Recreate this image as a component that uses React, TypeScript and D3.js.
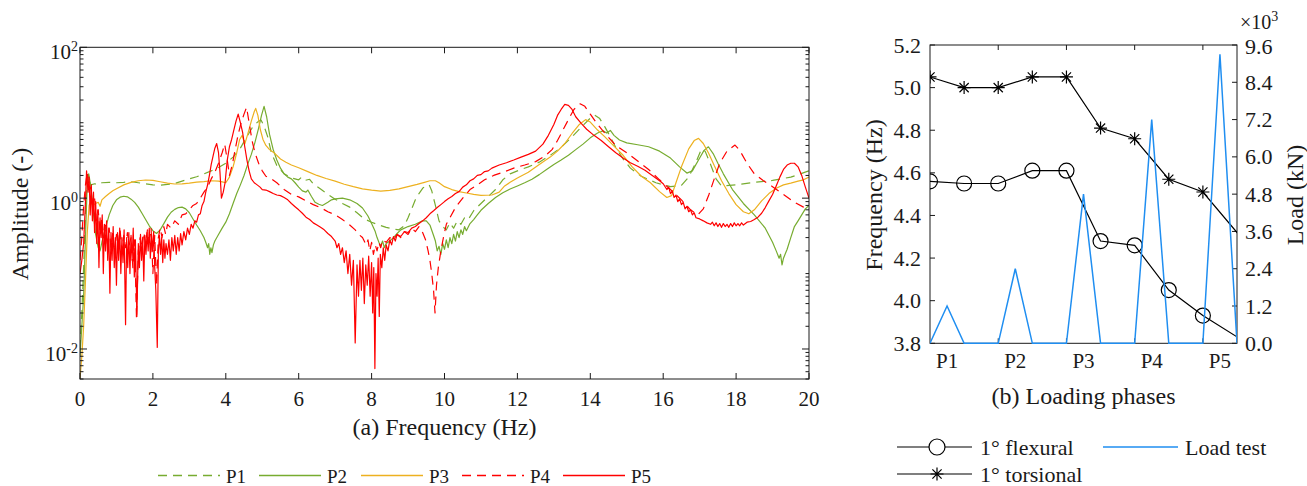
import React from 'react';
import * as d3 from 'd3';

const FONT = '"Liberation Serif", "Times New Roman", serif';
const INK = '#1a1a1a';
const GREEN = '#77AC30';
const ORANGE = '#EDB120';
const RED = '#FF0000';
const BLUE = '#1F8EF1';

// ---------- Panel (a): FRF amplitude spectra, [frequency Hz, amplitude] ----------
const P1: [number, number][] = [
  [0,0.01],[0.05,0.03],[0.1,0.12],[0.15,0.6],[0.2,2.0],[0.25,1.7],[0.3,1.5],[0.4,1.55],[0.5,1.5],[0.6,1.6],
  [0.8,1.62],[1.0,1.6],[1.2,1.62],[1.4,1.65],[1.6,1.6],[1.8,1.55],[2.0,1.5],[2.2,1.48],[2.4,1.52],[2.6,1.57],
  [2.8,1.68],[3.0,1.8],[3.2,1.92],[3.4,2.1],[3.6,2.3],[3.8,2.55],[4.0,2.9],[4.2,3.5],[4.4,4.6],[4.6,6.8],
  [4.75,9.0],[4.9,10.5],[4.97,10.8],[5.05,9.0],[5.15,6.5],[5.25,4.0],[5.4,2.7],[5.6,2.1],[5.8,1.85],[6.0,1.75],
  [6.08,1.9],[6.18,1.72],[6.3,1.78],[6.4,1.55],[6.6,1.32],[6.8,1.12],[7.0,0.97],[7.2,0.85],[7.4,0.76],[7.6,0.64],
  [7.8,0.53],[8.0,0.48],[8.2,0.44],[8.4,0.41],[8.6,0.39],[8.75,0.38],[8.9,0.43],[9.0,0.55],[9.1,0.72],[9.2,0.95],
  [9.3,1.15],[9.4,1.35],[9.5,1.48],[9.58,1.5],[9.65,1.25],[9.75,0.8],[9.85,0.5],[9.95,0.42],[10.05,0.38],[10.15,0.47],
  [10.25,0.4],[10.35,0.5],[10.45,0.45],[10.55,0.55],[10.65,0.52],[10.8,0.68],[11.0,0.85],[11.2,1.05],[11.4,1.3],[11.6,1.75],
  [11.8,2.1],[12.0,2.3],[12.3,2.6],[12.6,3.0],[12.9,3.7],[13.2,4.7],[13.5,6.5],[13.8,9.2],[14.0,11.5],[14.12,12.6],
  [14.25,11.5],[14.4,8.8],[14.55,6.5],[14.7,4.7],[14.9,3.3],[15.1,2.5],[15.4,1.95],[15.8,1.6],[16.2,1.42],[16.5,1.48],
  [16.7,1.9],[16.9,3.0],[17.05,4.5],[17.15,4.2],[17.3,2.8],[17.45,1.8],[17.6,1.45],[18.0,1.5],[18.5,1.62],[19.0,1.72],
  [19.5,1.9],[20.0,2.3],
];

const P2: [number, number][] = [
  [0,0.008],[0.05,0.02],[0.1,0.05],[0.15,0.3],[0.2,1.6],[0.24,2.1],[0.28,1.6],[0.33,1.0],[0.38,0.55],[0.43,0.33],
  [0.5,0.22],[0.55,0.2],[0.6,0.26],[0.7,0.4],[0.8,0.6],[0.9,0.8],[1.0,0.95],[1.1,1.03],[1.2,1.06],[1.3,1.04],
  [1.4,0.97],[1.5,0.88],[1.6,0.76],[1.7,0.63],[1.8,0.52],[1.9,0.43],[2.0,0.37],[2.1,0.34],[2.2,0.38],[2.3,0.46],
  [2.4,0.56],[2.5,0.65],[2.6,0.71],[2.7,0.75],[2.8,0.76],[2.9,0.72],[3.0,0.64],[3.1,0.53],[3.2,0.44],[3.3,0.37],
  [3.4,0.3],[3.45,0.26],[3.5,0.22],[3.53,0.25],[3.56,0.18],[3.59,0.22],[3.62,0.19],[3.66,0.24],[3.7,0.27],[3.8,0.33],
  [3.9,0.4],[4.0,0.48],[4.1,0.62],[4.2,0.85],[4.3,1.15],[4.4,1.5],[4.5,2.0],[4.6,2.8],[4.7,3.8],[4.8,5.5],
  [4.9,8.5],[4.98,12.5],[5.05,16.5],[5.12,12],[5.2,7.0],[5.3,4.4],[5.4,3.2],[5.5,2.5],[5.6,2.1],[5.7,1.9],
  [5.8,1.8],[5.9,1.6],[6.0,1.4],[6.1,1.25],[6.2,1.2],[6.25,1.28],[6.35,1.05],[6.45,0.88],[6.55,0.83],[6.65,0.8],
  [6.8,0.88],[6.9,0.95],[7.0,0.98],[7.2,1.0],[7.4,0.95],[7.6,0.85],[7.75,0.74],[7.9,0.58],[8.0,0.46],[8.1,0.36],
  [8.15,0.3],[8.2,0.26],[8.25,0.23],[8.3,0.27],[8.35,0.22],[8.4,0.25],[8.5,0.27],[8.6,0.3],[8.7,0.34],[8.8,0.38],
  [9.0,0.42],[9.2,0.45],[9.4,0.5],[9.5,0.5],[9.6,0.44],[9.7,0.32],[9.75,0.27],[9.8,0.2],[9.85,0.23],[9.9,0.18],
  [9.95,0.25],[10.0,0.21],[10.05,0.28],[10.1,0.22],[10.15,0.3],[10.2,0.25],[10.25,0.33],[10.3,0.27],[10.35,0.36],[10.4,0.3],
  [10.45,0.38],[10.5,0.33],[10.55,0.42],[10.6,0.37],[10.7,0.46],[10.8,0.52],[10.9,0.6],[11.0,0.69],[11.2,0.85],[11.4,1.02],
  [11.6,1.18],[11.8,1.32],[12.0,1.45],[12.2,1.6],[12.4,1.78],[12.6,2.05],[12.8,2.4],[13.0,2.8],[13.2,3.2],[13.4,3.7],
  [13.6,4.4],[13.8,5.2],[14.0,6.3],[14.2,7.3],[14.35,7.8],[14.45,7.3],[14.55,7.9],[14.65,6.8],[14.8,5.9],[15.0,5.4],
  [15.3,5.1],[15.6,4.8],[15.9,4.2],[16.2,3.4],[16.45,2.6],[16.65,2.15],[16.8,2.3],[17.0,3.4],[17.12,4.3],[17.24,4.8],
  [17.37,3.9],[17.5,2.9],[17.65,2.1],[17.9,1.3],[18.2,0.85],[18.5,0.6],[18.8,0.4],[19.0,0.26],[19.1,0.2],[19.18,0.16],
  [19.22,0.18],[19.26,0.13],[19.3,0.16],[19.4,0.21],[19.5,0.3],[19.6,0.42],[19.7,0.5],[19.8,0.6],[19.9,0.72],[20.0,0.8],
];

const P3: [number, number][] = [
  [0,0.004],[0.05,0.008],[0.1,0.02],[0.15,0.08],[0.2,0.35],[0.25,0.8],[0.3,0.95],[0.35,0.78],[0.42,0.85],[0.5,0.88],
  [0.55,0.78],[0.6,0.95],[0.7,1.05],[0.8,1.15],[0.9,1.25],[1.0,1.33],[1.2,1.5],[1.4,1.62],[1.6,1.7],[1.8,1.74],
  [2.0,1.72],[2.2,1.65],[2.4,1.58],[2.6,1.54],[2.8,1.55],[3.0,1.58],[3.2,1.63],[3.4,1.66],[3.6,1.7],[3.8,1.68],
  [3.9,1.64],[4.0,1.6],[4.1,1.9],[4.2,2.6],[4.3,4.0],[4.38,6.0],[4.45,6.8],[4.52,5.2],[4.6,7.0],[4.7,10.5],
  [4.78,14],[4.82,15.5],[4.88,12.5],[4.95,8.0],[5.02,6.0],[5.1,5.0],[5.2,4.4],[5.35,3.9],[5.5,3.3],[5.65,3.0],
  [5.8,2.75],[6.0,2.53],[6.25,2.25],[6.5,2.0],[6.75,1.82],[7.0,1.68],[7.25,1.53],[7.5,1.42],[7.75,1.33],[8.0,1.28],
  [8.25,1.24],[8.5,1.27],[8.75,1.33],[9.0,1.42],[9.25,1.52],[9.45,1.62],[9.6,1.7],[9.75,1.7],[9.85,1.6],[10.0,1.42],
  [10.2,1.3],[10.4,1.22],[10.6,1.17],[10.8,1.12],[11.0,1.09],[11.3,1.1],[11.5,1.2],[11.65,1.45],[11.8,1.62],[12.0,1.85],
  [12.3,2.2],[12.6,2.8],[12.9,3.5],[13.1,4.2],[13.3,5.3],[13.5,7.2],[13.7,9.5],[13.87,11.0],[14.0,10.2],[14.2,8.0],
  [14.4,6.5],[14.65,4.9],[14.9,3.7],[15.15,2.6],[15.4,1.95],[15.65,1.6],[15.9,1.22],[16.1,1.02],[16.23,1.08],[16.35,1.6],
  [16.5,2.6],[16.7,4.5],[16.85,5.8],[16.97,6.2],[17.1,5.3],[17.25,3.9],[17.4,2.7],[17.6,1.7],[17.8,1.15],[18.0,0.82],
  [18.2,0.66],[18.35,0.62],[18.5,0.7],[18.7,0.92],[18.9,1.15],[19.1,1.35],[19.3,1.5],[19.5,1.58],[19.7,1.68],[19.85,1.75],
  [20.0,1.9],
];

const P4: [number, number][] = [
  [0,0.15],[0.05,0.3],[0.1,0.8],[0.15,1.5],[0.2,2.2],[0.25,1.3],[0.3,1.4],[0.35,0.8],[0.4,1.0],[0.45,0.5],
  [0.5,0.7],[0.55,0.35],[0.6,0.55],[0.65,0.3],[0.7,0.45],[0.75,0.25],[0.8,0.4],[0.85,0.22],[0.9,0.35],[0.95,0.18],
  [1.0,0.33],[1.05,0.25],[1.1,0.38],[1.15,0.2],[1.2,0.32],[1.25,0.22],[1.3,0.35],[1.35,0.24],[1.4,0.3],[1.45,0.12],
  [1.5,0.28],[1.55,0.025],[1.6,0.2],[1.65,0.3],[1.7,0.22],[1.75,0.35],[1.8,0.25],[1.85,0.38],[1.9,0.28],[1.95,0.4],
  [2.0,0.1],[2.05,0.32],[2.1,0.07],[2.15,0.3],[2.2,0.4],[2.25,0.3],[2.3,0.42],[2.35,0.33],[2.4,0.45],[2.5,0.4],
  [2.6,0.5],[2.7,0.45],[2.8,0.6],[2.9,0.62],[3.0,0.7],[3.1,0.8],[3.2,0.85],[3.3,1.0],[3.4,1.2],[3.5,1.4],
  [3.6,1.8],[3.7,2.2],[3.8,2.9],[3.9,4.0],[3.97,5.2],[4.04,3.2],[4.1,2.0],[4.18,2.8],[4.26,4.5],[4.34,7.0],
  [4.42,10],[4.5,13],[4.57,16],[4.64,10],[4.72,5.8],[4.8,4.0],[4.9,2.9],[5.0,2.3],[5.1,1.95],[5.25,1.8],
  [5.4,1.6],[5.6,1.3],[5.8,1.12],[6.0,1.04],[6.2,0.92],[6.4,0.82],[6.6,0.75],[6.8,0.66],[7.0,0.6],[7.2,0.52],
  [7.4,0.44],[7.55,0.38],[7.65,0.33],[7.75,0.3],[7.85,0.24],[7.9,0.28],[7.95,0.2],[8.0,0.26],[8.05,0.18],[8.1,0.24],
  [8.15,0.2],[8.2,0.26],[8.25,0.22],[8.3,0.28],[8.4,0.26],[8.5,0.3],[8.6,0.28],[8.7,0.33],[8.8,0.3],[8.9,0.36],
  [9.0,0.33],[9.1,0.4],[9.2,0.36],[9.3,0.42],[9.4,0.35],[9.48,0.28],[9.55,0.2],[9.6,0.15],[9.65,0.1],[9.7,0.06],
  [9.74,0.03],[9.78,0.07],[9.83,0.12],[9.9,0.2],[9.97,0.3],[10.05,0.45],[10.15,0.55],[10.3,0.75],[10.5,1.0],[10.7,1.3],
  [10.9,1.5],[11.1,1.75],[11.35,2.0],[11.6,2.2],[11.9,2.5],[12.2,2.75],[12.5,3.05],[12.75,3.6],[12.95,4.4],[13.1,5.8],
  [13.25,8.0],[13.4,11],[13.55,15],[13.72,17.8],[13.85,16.5],[14.0,13],[14.2,9.5],[14.45,6.8],[14.7,5.0],[15.0,4.0],
  [15.3,3.1],[15.6,2.4],[15.9,1.75],[16.2,1.3],[16.5,0.95],[16.75,0.7],[16.95,0.6],[17.1,0.72],[17.25,1.1],[17.4,1.8],
  [17.55,2.9],[17.75,4.2],[17.97,5.05],[18.1,4.3],[18.3,2.9],[18.5,2.1],[18.75,1.7],[19.0,1.42],[19.3,1.12],[19.6,0.88],
  [19.85,0.76],[20.0,0.73],
];

const P5: [number, number][] = [
  [0,0.1],[0.05,0.15],[0.1,0.25],[0.15,0.9],[0.18,2.3],[0.22,1.2],[0.25,1.9],[0.28,0.6],[0.31,1.5],[0.34,0.5],
  [0.37,1.2],[0.4,0.35],[0.43,0.9],[0.46,0.25],[0.49,0.7],[0.52,0.12],[0.55,0.55],[0.58,0.3],[0.61,0.6],[0.64,0.1],
  [0.67,0.45],[0.7,0.2],[0.73,0.5],[0.76,0.15],[0.79,0.4],[0.82,0.055],[0.85,0.35],[0.88,0.15],[0.91,0.42],[0.94,0.12],
  [0.97,0.3],[1.0,0.07],[1.03,0.35],[1.06,0.15],[1.09,0.4],[1.12,0.1],[1.15,0.3],[1.18,0.14],[1.21,0.38],[1.25,0.021],
  [1.28,0.3],[1.31,0.12],[1.34,0.35],[1.37,0.1],[1.4,0.32],[1.43,0.15],[1.46,0.4],[1.49,0.09],[1.52,0.28],[1.56,0.027],
  [1.6,0.25],[1.63,0.12],[1.66,0.33],[1.69,0.15],[1.72,0.3],[1.75,0.08],[1.78,0.32],[1.81,0.18],[1.84,0.35],[1.87,0.2],
  [1.9,0.4],[1.93,0.16],[1.96,0.33],[1.99,0.2],[2.02,0.36],[2.05,0.12],[2.08,0.06],[2.12,0.0105],[2.15,0.2],[2.18,0.32],
  [2.21,0.18],[2.24,0.3],[2.27,0.14],[2.3,0.28],[2.33,0.16],[2.36,0.25],[2.4,0.18],[2.44,0.28],[2.48,0.15],[2.52,0.3],
  [2.56,0.2],[2.6,0.32],[2.64,0.18],[2.68,0.3],[2.72,0.2],[2.76,0.34],[2.8,0.24],[2.85,0.36],[2.9,0.28],[2.95,0.4],
  [3.0,0.33],[3.05,0.45],[3.1,0.4],[3.15,0.5],[3.2,0.48],[3.25,0.6],[3.3,0.62],[3.35,0.8],[3.4,0.9],[3.45,1.2],
  [3.5,1.5],[3.55,2.0],[3.6,2.8],[3.65,3.6],[3.7,4.6],[3.75,5.3],[3.8,4.0],[3.84,2.2],[3.88,1.0],[3.93,1.2],
  [3.98,1.6],[4.04,3.2],[4.1,4.8],[4.16,6.0],[4.22,8.0],[4.28,10.5],[4.34,13],[4.4,10],[4.46,7.5],[4.52,4.8],
  [4.58,3.2],[4.64,2.3],[4.7,1.8],[4.78,1.6],[4.86,1.5],[4.94,1.4],[5.0,1.3],[5.1,1.28],[5.2,1.22],[5.3,1.15],
  [5.4,1.1],[5.5,1.08],[5.6,1.02],[5.7,0.95],[5.8,0.85],[5.9,0.77],[6.0,0.7],[6.1,0.63],[6.2,0.56],[6.3,0.52],
  [6.4,0.47],[6.5,0.44],[6.6,0.41],[6.7,0.38],[6.8,0.34],[6.9,0.31],[7.0,0.27],[7.05,0.22],[7.1,0.25],[7.15,0.18],
  [7.2,0.22],[7.25,0.14],[7.3,0.2],[7.35,0.1],[7.4,0.18],[7.45,0.07],[7.5,0.15],[7.55,0.012],[7.6,0.13],[7.64,0.05],
  [7.68,0.15],[7.72,0.06],[7.76,0.16],[7.8,0.04],[7.84,0.13],[7.88,0.07],[7.92,0.17],[7.96,0.05],[8.0,0.14],[8.03,0.03],
  [8.06,0.12],[8.09,0.0055],[8.12,0.1],[8.15,0.05],[8.18,0.16],[8.21,0.027],[8.24,0.18],[8.28,0.12],[8.32,0.22],[8.36,0.15],
  [8.4,0.24],[8.45,0.2],[8.5,0.28],[8.55,0.24],[8.6,0.31],[8.65,0.27],[8.7,0.33],[8.8,0.31],[8.9,0.36],[9.0,0.35],
  [9.1,0.4],[9.2,0.42],[9.3,0.46],[9.4,0.5],[9.5,0.55],[9.6,0.62],[9.7,0.68],[9.8,0.75],[9.9,0.82],[10.0,0.9],
  [10.1,0.98],[10.2,1.05],[10.3,1.15],[10.4,1.22],[10.5,1.4],[10.6,1.5],[10.7,1.7],[10.8,1.8],[10.9,2.0],[11.0,2.05],
  [11.1,2.25],[11.2,2.3],[11.3,2.5],[11.5,2.75],[11.7,2.95],[11.9,3.2],[12.1,3.5],[12.3,3.8],[12.5,4.2],[12.7,5.2],
  [12.85,6.8],[13.0,9.5],[13.1,12.5],[13.2,15],[13.3,17.5],[13.4,17],[13.5,15],[13.6,12],[13.75,9.8],[13.9,8.2],
  [14.1,6.8],[14.3,5.8],[14.5,4.8],[14.7,4.0],[14.9,3.4],[15.1,2.95],[15.3,2.65],[15.5,2.35],[15.7,2.0],[15.9,1.7],
  [16.0,1.55],[16.1,1.3],[16.15,1.4],[16.2,1.15],[16.25,1.25],[16.3,1.02],[16.35,1.1],[16.4,0.9],[16.45,0.98],[16.5,0.82],
  [16.55,0.88],[16.6,0.72],[16.65,0.78],[16.7,0.66],[16.75,0.7],[16.8,0.6],[16.85,0.64],[16.9,0.55],[17.0,0.53],[17.1,0.5],
  [17.2,0.47],[17.3,0.45],[17.35,0.48],[17.4,0.43],[17.45,0.47],[17.5,0.42],[17.55,0.46],[17.6,0.41],[17.65,0.46],[17.7,0.42],
  [17.75,0.45],[17.8,0.41],[17.85,0.46],[17.9,0.42],[17.95,0.47],[18.0,0.43],[18.05,0.46],[18.1,0.43],[18.15,0.47],[18.2,0.44],
  [18.3,0.48],[18.4,0.49],[18.5,0.52],[18.6,0.56],[18.7,0.63],[18.8,0.75],[18.9,0.92],[19.0,1.12],[19.1,1.45],[19.2,1.9],
  [19.3,2.4],[19.4,2.75],[19.5,2.9],[19.6,2.9],[19.7,2.6],[19.8,2.0],[19.9,1.4],[20.0,1.0],
];

const SERIES_NAMES = ['P1', 'P2', 'P3', 'P4', 'P5'];
const FREQ_TICKS = [0, 2, 4, 6, 8, 10, 12, 14, 16, 18, 20];
const AMP_MAJOR_EXP = [-2, 0, 2];

// ---------- Panel (b): modal frequencies and load test ----------
const PHASE_IDX = [0, 1, 2, 3, 4, 5, 6, 7, 8, 10];
const FLEXURAL_HZ = [4.56, 4.55, 4.55, 4.61, 4.61, 4.28, 4.26, 4.05, 3.93, 3.73];
const TORSIONAL_HZ = [5.05, 5.0, 5.0, 5.05, 5.05, 4.81, 4.76, 4.57, 4.51, 4.13];
const LOAD_IDX = [0, 0.5, 1, 2, 2.5, 3, 4, 4.5, 5, 6, 6.5, 7, 8, 8.5, 9];
const LOAD_KN_E3 = [0, 1.2, 0, 0, 2.4, 0, 0, 4.8, 0, 0, 7.2, 0, 0, 9.3, 0];
const PHASE_LABELS = ['P1', 'P2', 'P3', 'P4', 'P5'];
const PHASE_LABEL_POS = [0.5, 2.5, 4.5, 6.5, 8.5];
const FREQ_B_TICKS = [3.8, 4.0, 4.2, 4.4, 4.6, 4.8, 5.0, 5.2];
const LOAD_TICKS = [0, 1.2, 2.4, 3.6, 4.8, 6.0, 7.2, 8.4, 9.6];

const DASH = '9,6';

export default function App() {
  // panel a geometry
  const aL = 80, aR = 809, aT = 47.3, aB = 379;
  const xA = d3.scaleLinear().domain([0, 20]).range([aL, aR]);
  const yA = d3.scaleLog().domain([0.004, 100]).range([aB, aT]);
  const lineA = d3.line<[number, number]>().x(d => xA(d[0])).y(d => yA(d[1]));

  const seriesData = [P1, P2, P3, P4, P5];
  const seriesStyle = [
    { color: GREEN, dash: DASH },
    { color: GREEN, dash: undefined },
    { color: ORANGE, dash: undefined },
    { color: RED, dash: DASH },
    { color: RED, dash: undefined },
  ];

  // log minor ticks
  const minorA: number[] = [];
  for (let e = -3; e <= 1; e++) {
    for (let m = 1; m <= 9; m++) {
      const v = m * Math.pow(10, e);
      if (v >= 0.004 && v <= 100 && !(m === 1 && AMP_MAJOR_EXP.includes(e))) minorA.push(v);
    }
  }

  // panel b geometry
  const bL = 930, bR = 1237, bT = 45, bB = 343.3;
  const xB = d3.scaleLinear().domain([0, 9]).range([bL, bR]);
  const yBf = d3.scaleLinear().domain([3.8, 5.2]).range([bB, bT]);
  const yBl = d3.scaleLinear().domain([0, 9.6]).range([bB, bT]);
  const lineF = d3.line<number>().x((_, i) => xB(PHASE_IDX[i])).y(d => yBf(d));
  const lineL = d3.line<number>().x((_, i) => xB(LOAD_IDX[i])).y(d => yBl(d));

  const star = (cx: number, cy: number, r: number) => {
    const d = r * 0.7071;
    return `M${cx - r},${cy}H${cx + r}M${cx},${cy - r}V${cy + r}M${cx - d},${cy - d}L${cx + d},${cy + d}M${cx - d},${cy + d}L${cx + d},${cy - d}`;
  };

  const legendAX = [158, 259, 361, 462, 563];

  return (
    <svg width={1307} height={486} style={{ position: 'absolute', left: 0, top: 0, background: '#fff' }}
      fontFamily={FONT} fill={INK}>
      <defs>
        <clipPath id="clipA"><rect x={aL} y={aT} width={aR - aL} height={aB - aT} /></clipPath>
        <clipPath id="clipB"><rect x={bL} y={bT} width={bR - bL} height={bB - bT + 1.5} /></clipPath>
      </defs>

      {/* ---------- Panel (a) ---------- */}
      <g clipPath="url(#clipA)">
        {seriesData.map((s, i) => (
          <path key={SERIES_NAMES[i]} d={lineA(s) || ''} fill="none" stroke={seriesStyle[i].color}
            strokeWidth={1.2} strokeDasharray={seriesStyle[i].dash} strokeLinejoin="round" />
        ))}
      </g>
      <rect x={aL} y={aT} width={aR - aL} height={aB - aT} fill="none" stroke={INK} strokeWidth={1} />
      {FREQ_TICKS.map(t => (
        <g key={'fx' + t}>
          <line x1={xA(t)} x2={xA(t)} y1={aB} y2={aB - 6} stroke={INK} />
          <line x1={xA(t)} x2={xA(t)} y1={aT} y2={aT + 6} stroke={INK} />
          <text x={xA(t)} y={406} fontSize={21} textAnchor="middle">{t}</text>
        </g>
      ))}
      {minorA.map(v => (
        <g key={'my' + v}>
          <line x1={aL} x2={aL + 3.5} y1={yA(v)} y2={yA(v)} stroke={INK} />
          <line x1={aR} x2={aR - 3.5} y1={yA(v)} y2={yA(v)} stroke={INK} />
        </g>
      ))}
      {AMP_MAJOR_EXP.map(e => {
        const y = yA(Math.pow(10, e));
        return (
          <g key={'My' + e}>
            <line x1={aL} x2={aL + 7} y1={y} y2={y} stroke={INK} />
            <line x1={aR} x2={aR - 7} y1={y} y2={y} stroke={INK} />
            <text x={78} y={y + 12} fontSize={21} textAnchor="end">
              10<tspan dy={-8} fontSize={14}>{e < 0 ? '-' + Math.abs(e) : String(e)}</tspan>
            </text>
          </g>
        );
      })}
      <text transform="translate(28,214) rotate(-90)" fontSize={24} textAnchor="middle">Amplitude (-)</text>
      <text x={(aL + aR) / 2} y={435} fontSize={24} textAnchor="middle">(a) Frequency (Hz)</text>

      {/* legend a */}
      {SERIES_NAMES.map((n, i) => (
        <g key={'lg' + n}>
          <line x1={legendAX[i]} x2={legendAX[i] + 62} y1={475.5} y2={475.5} stroke={seriesStyle[i].color}
            strokeWidth={1.3} strokeDasharray={seriesStyle[i].dash} />
          <text x={legendAX[i] + 68} y={482.5} fontSize={19}>{n}</text>
        </g>
      ))}

      {/* ---------- Panel (b) ---------- */}
      <rect x={bL} y={bT} width={bR - bL} height={bB - bT} fill="none" stroke={INK} strokeWidth={1} />
      {[2, 4, 6, 8].map(t => (
        <g key={'bx' + t}>
          <line x1={xB(t)} x2={xB(t)} y1={bT} y2={bT + 5} stroke={INK} />
          <line x1={xB(t)} x2={xB(t)} y1={bB} y2={bB - 5} stroke={INK} />
        </g>
      ))}
      {FREQ_B_TICKS.map(t => (
        <g key={'bf' + t}>
          <line x1={bL} x2={bL + 5} y1={yBf(t)} y2={yBf(t)} stroke={INK} />
          <text x={921} y={yBf(t) + 7.5} fontSize={22} textAnchor="end">{t.toFixed(1)}</text>
        </g>
      ))}
      {LOAD_TICKS.map(t => (
        <g key={'bl' + t}>
          <line x1={bR} x2={bR - 5} y1={yBl(t)} y2={yBl(t)} stroke={INK} />
          <text x={1245} y={yBl(t) + 7.5 + (t === 9.6 ? 1 : 0)} fontSize={22}>{t.toFixed(1)}</text>
        </g>
      ))}
      <text x={1240} y={29} fontSize={20}>×10<tspan dy={-8} fontSize={14}>3</tspan></text>
      {PHASE_LABELS.map((p, i) => (
        <text key={'pl' + p} x={xB(PHASE_LABEL_POS[i])} y={368} fontSize={21} textAnchor="middle">{p}</text>
      ))}
      <text transform="translate(882,195) rotate(-90)" fontSize={24} textAnchor="middle">Frequency (Hz)</text>
      <text transform="translate(1303,195) rotate(-90)" fontSize={24} textAnchor="middle">Load (kN)</text>
      <text x={(bL + bR) / 2} y={404} fontSize={24} textAnchor="middle">(b) Loading phases</text>

      <g clipPath="url(#clipB)">
        <path d={lineF(TORSIONAL_HZ) || ''} fill="none" stroke="#000" strokeWidth={1.2} />
        <path d={lineF(FLEXURAL_HZ) || ''} fill="none" stroke="#000" strokeWidth={1.2} />
        {FLEXURAL_HZ.map((v, i) => (
          <circle key={'fc' + i} cx={xB(PHASE_IDX[i])} cy={yBf(v)} r={7.5} fill="none" stroke="#000" strokeWidth={1.2} />
        ))}
        {TORSIONAL_HZ.map((v, i) => (
          <path key={'ts' + i} d={star(xB(PHASE_IDX[i]), yBf(v), 6.5)} stroke="#000" strokeWidth={1.2} />
        ))}
        <path d={lineL(LOAD_KN_E3) || ''} fill="none" stroke={BLUE} strokeWidth={1.5} />
      </g>

      {/* legend b */}
      <line x1={897} x2={972} y1={447} y2={447} stroke="#000" strokeWidth={1.2} />
      <circle cx={937} cy={447} r={8} fill="#fff" stroke="#000" strokeWidth={1.2} />
      <text x={980} y={455} fontSize={22}>1° flexural</text>
      <line x1={897} x2={972} y1={474} y2={474} stroke="#000" strokeWidth={1.2} />
      <path d={star(937, 474, 6.5)} stroke="#000" strokeWidth={1.2} />
      <text x={980} y={482} fontSize={22}>1° torsional</text>
      <line x1={1103} x2={1178} y1={447} y2={447} stroke={BLUE} strokeWidth={1.5} />
      <text x={1185} y={455} fontSize={22}>Load test</text>
    </svg>
  );
}
